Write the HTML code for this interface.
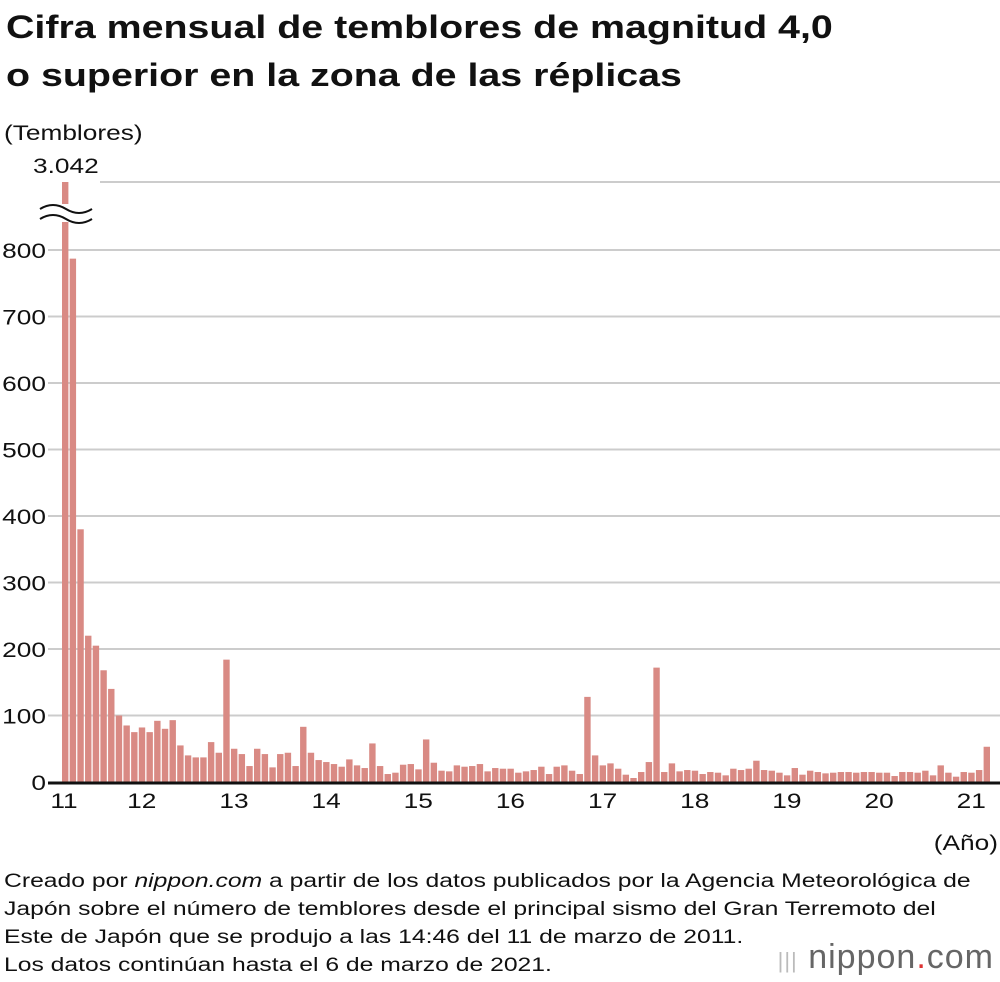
<!DOCTYPE html>
<html><head><meta charset="utf-8"><style>
body{margin:0;background:#fff;font-family:"Liberation Sans",sans-serif;color:#111}
#w{position:relative;width:1000px;height:982px;overflow:hidden}
.t{position:absolute;left:6px;font-weight:bold;font-size:32px;line-height:48px;transform:scaleX(1.23);transform-origin:0 0;white-space:nowrap}
.f{position:absolute;left:4px;top:868px;font-size:19px;line-height:28px;transform:scaleX(1.3);transform-origin:0 0;white-space:nowrap}
</style></head><body><div id="w">
<div class="t" style="top:3px">Cifra mensual de temblores de magnitud 4,0<br>o superior en la zona de las réplicas</div>
<svg id="c" width="1000" height="870" style="position:absolute;left:0;top:0"></svg>
<div class="f">Creado por <i>nippon.com</i> a partir de los datos publicados por la Agencia Meteorológica de<br>Japón sobre el número de temblores desde el principal sismo del Gran Terremoto del<br>Este de Japón que se produjo a las 14:46 del 11 de marzo de 2011.<br>Los datos continúan hasta el 6 de marzo de 2021.</div>
<div style="position:absolute;right:6px;top:938px;font-size:34px;color:#666;letter-spacing:1px"><span style="color:#bbb;font-size:22px">|||</span> nippon<span style="color:#d33">.</span>com</div>
</div>
<script>
const values=[3042,787,380,220,205,168,140,100,85,75,82,75,92,80,93,55,40,37,37,60,44,184,
50,42,24,50,42,22,42,44,24,83,44,33,30,27,23,34,25,21,58,24,12,14,26,27,19,64,29,17,16,25,
23,24,27,16,21,20,20,14,16,18,23,12,23,25,17,12,128,40,25,28,20,11,6,15,30,172,15,28,16,18,
17,12,15,14,10,20,18,20,32,18,17,14,10,21,11,17,15,13,14,15,15,14,15,15,14,14,9,15,15,14,
17,10,25,14,8,15,14,18,53];
const yTicks=[0,100,200,300,400,500,600,700,800];
const xLabels=["11","12","13","14","15","16","17","18","19","20","21"];
const NS="http://www.w3.org/2000/svg",svg=document.getElementById('c');
const y=v=>782-v*0.665, x=i=>62+i*7.68;
function mk(t,a,txt){const e=document.createElementNS(NS,t);for(const k in a)e.setAttribute(k,a[k]);if(txt!=null)e.textContent=txt;svg.appendChild(e);
if(t==='text'){const L=e.getComputedTextLength();if(L>0){e.setAttribute('textLength',L*1.25);e.setAttribute('lengthAdjust','spacingAndGlyphs');}}
return e;}
yTicks.forEach(v=>{if(v>0){const g=mk('line',{x1:48,x2:1000,y1:y(v),y2:y(v),stroke:'#ccc','stroke-width':2});

}
const t=mk('text',{x:46,y:y(v)+8,'text-anchor':'end','font-size':21,fill:'#111'},v);

});
const tg=mk('line',{x1:100,x2:1000,y1:182,y2:182,stroke:'#ccc','stroke-width':2});


values.forEach((v,i)=>{const top=Math.max(y(v),182);const r=mk('rect',{x:x(i),y:top,width:6.4,height:782-top,fill:'#d98a84'});

});
const br=mk('rect',{x:38,y:204,width:58,height:18,fill:'#fff'});


['M40,209 q13,-8 26,0 t26,0','M40,219 q13,-8 26,0 t26,0'].forEach(d=>{const p=mk('path',{d:d,stroke:'#111','stroke-width':2,fill:'none'});

});
const ax=mk('line',{x1:48,x2:1000,y1:783,y2:783,stroke:'#111','stroke-width':3});


xLabels.forEach((l,k)=>{const i=k===0?0:10+12*(k-1);const t=mk('text',{x:x(i)+(k===0?2:3),y:808,'text-anchor':'middle','font-size':21,fill:'#111'},l);

});
const a1=mk('text',{x:998,y:850,'text-anchor':'end','font-size':21,fill:'#111'},'(Año)');


const a2=mk('text',{x:4,y:140,'font-size':21,fill:'#111'},'(Temblores)');


const a3=mk('text',{x:33,y:173,'font-size':21,fill:'#111'},'3.042');


</script></body></html>
